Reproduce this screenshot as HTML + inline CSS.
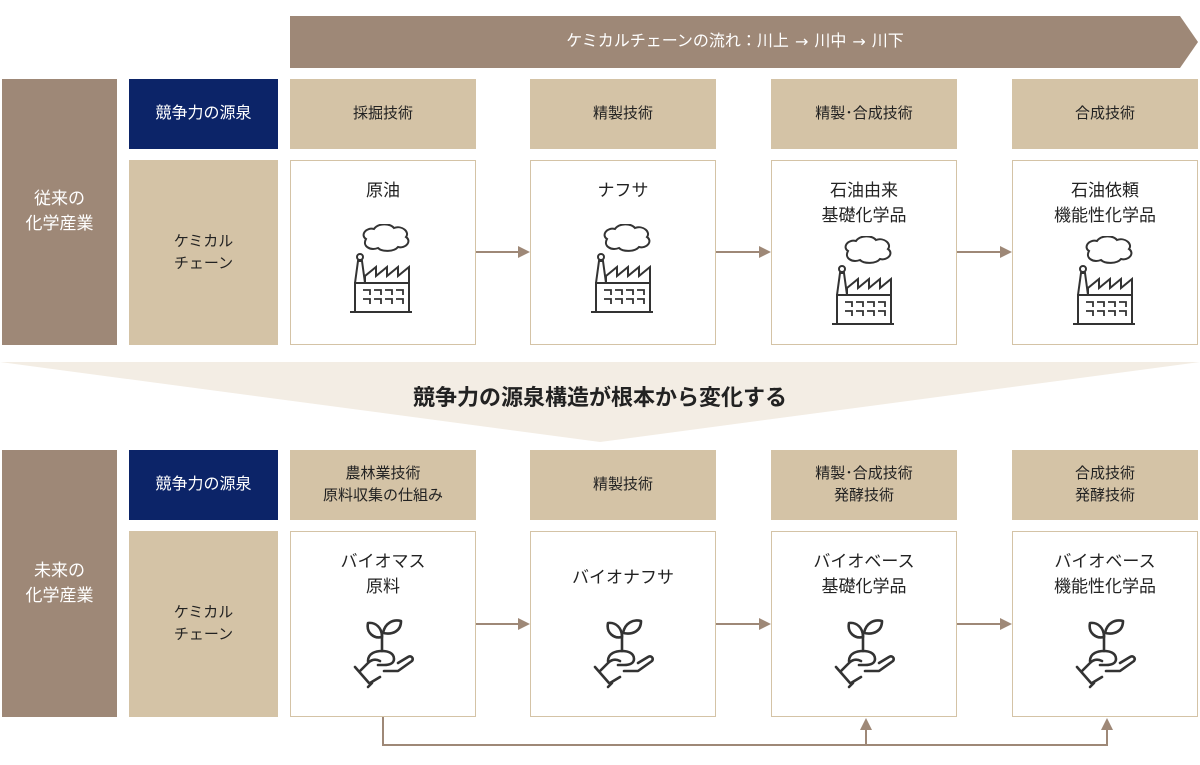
<!DOCTYPE html>
<html><head><meta charset="utf-8"><style>
body{margin:0;width:1200px;height:765px;background:#fff;position:relative;overflow:hidden;font-family:"Liberation Sans","Noto Sans CJK JP",sans-serif;}
.a{position:absolute;display:flex;align-items:center;justify-content:center;text-align:center;box-sizing:border-box;line-height:1.45;}
.tp{background:#9e8877;color:#fff;font-size:17px;}
.nv{background:#0c2468;color:#fff;font-size:16px;}
.bg{background:#d4c3a6;color:#222;font-size:15px;}
.bx{background:#fff;border:1.5px solid #d4c3a6;align-items:flex-start;padding-top:18px;font-size:17px;color:#222;}
svg{position:absolute;}
</style></head><body>
<svg width="1200" height="765" style="left:0;top:0">
<polygon points="290,16 1180,16 1198,42 1180,68 290,68" fill="#9e8877"/>
<polygon points="0,362 1200,362 600,442" fill="#f3ede4"/>
<g stroke="#9e8877" stroke-width="2" fill="none">
<line x1="476" y1="252" x2="520" y2="252"/><line x1="716" y1="252" x2="761" y2="252"/><line x1="957" y1="252" x2="1002" y2="252"/>
<line x1="476" y1="624" x2="520" y2="624"/><line x1="716" y1="624" x2="761" y2="624"/><line x1="957" y1="624" x2="1002" y2="624"/>
<polyline points="383,717 383,745 1107,745 1107,728"/><line x1="866" y1="745" x2="866" y2="728"/>
</g>
<g fill="#9e8877">
<polygon points="518,246 530,252 518,258"/><polygon points="759,246 771,252 759,258"/><polygon points="1000,246 1012,252 1000,258"/>
<polygon points="518,618 530,624 518,630"/><polygon points="759,618 771,624 759,630"/><polygon points="1000,618 1012,624 1000,630"/>
<polygon points="860,730 866,718 872,730"/><polygon points="1101,730 1107,718 1113,730"/>
</g>
</svg>
<div class="a" style="left:290px;top:16px;width:890px;height:52px;color:#fff;font-size:16px;">ケミカルチェーンの流れ：川上 <span style="font-family:'DejaVu Sans';margin:0 6px">→</span> 川中 <span style="font-family:'DejaVu Sans';margin:0 6px">→</span> 川下</div>
<div class="a" style="left:0;top:376px;width:1200px;height:44px;font-size:22px;font-weight:bold;color:#222;">競争力の源泉構造が根本から変化する</div>

<div class="a tp" style="left:2px;top:79px;width:115px;height:266px;">従来の<br>化学産業</div>
<div class="a nv" style="left:129px;top:79px;width:149px;height:70px;">競争力の源泉</div>
<div class="a bg" style="left:129px;top:160px;width:149px;height:185px;">ケミカル<br>チェーン</div>
<div class="a bg" style="left:290px;top:79px;width:186px;height:70px;">採掘技術</div>
<div class="a bg" style="left:530px;top:79px;width:186px;height:70px;">精製技術</div>
<div class="a bg" style="left:771px;top:79px;width:186px;height:70px;">精製･合成技術</div>
<div class="a bg" style="left:1012px;top:79px;width:186px;height:70px;">合成技術</div>
<div class="a bx" style="left:290px;top:160px;width:186px;height:185px;">原油</div>
<div class="a bx" style="left:530px;top:160px;width:186px;height:185px;">ナフサ</div>
<div class="a bx" style="left:771px;top:160px;width:186px;height:185px;">石油由来<br>基礎化学品</div>
<div class="a bx" style="left:1012px;top:160px;width:186px;height:185px;">石油依頼<br>機能性化学品</div>

<div class="a tp" style="left:2px;top:450px;width:115px;height:267px;">未来の<br>化学産業</div>
<div class="a nv" style="left:129px;top:450px;width:149px;height:70px;">競争力の源泉</div>
<div class="a bg" style="left:129px;top:531px;width:149px;height:186px;">ケミカル<br>チェーン</div>
<div class="a bg" style="left:290px;top:450px;width:186px;height:70px;">農林業技術<br>原料収集の仕組み</div>
<div class="a bg" style="left:530px;top:450px;width:186px;height:70px;">精製技術</div>
<div class="a bg" style="left:771px;top:450px;width:186px;height:70px;">精製･合成技術<br>発酵技術</div>
<div class="a bg" style="left:1012px;top:450px;width:186px;height:70px;">合成技術<br>発酵技術</div>
<div class="a bx" style="left:290px;top:531px;width:186px;height:186px;">バイオマス<br>原料</div>
<div class="a bx" style="left:530px;top:531px;width:186px;height:186px;padding-top:34px;">バイオナフサ</div>
<div class="a bx" style="left:771px;top:531px;width:186px;height:186px;">バイオベース<br>基礎化学品</div>
<div class="a bx" style="left:1012px;top:531px;width:186px;height:186px;">バイオベース<br>機能性化学品</div>

<svg width="0" height="0"><defs>
<g id="fac" fill="none" stroke="#333" stroke-width="2">
<path d="M20,15 c-6,-4 0,-12 8,-10 c4,-6 16,-6 20,-1 c8,-3 16,4 12,9 c6,4 0,12 -8,10 c-4,5 -16,5 -20,1 c-8,3 -16,-2 -12,-9z"/>
<circle cx="14" cy="33" r="3"/>
<path d="M4,88 h62 M9,88 V59 h54 V88 M9,59 l3,-22 h4 l3,22 M19,59 V52 l11,-9 v9 l11,-9 v9 l11,-9 v9 l11,-9 V59"/>
<path d="M17,66 h7 v5 M28,66 h7 v5 M39,66 h7 v5 M50,66 h7 v5 M17,75 h7 v5 M28,75 h7 v5 M39,75 h7 v5 M50,75 h7 v5" stroke-width="1.8"/>
</g>
<g id="pl" fill="none" stroke="#333" stroke-width="2.6" stroke-linejoin="round" stroke-linecap="round">
<path d="M32,36 V20"/>
<path d="M32,22 c-8,2 -16,-4 -14,-14 c8,-1 14,5 14,14z"/>
<path d="M33,18 c2,-10 10,-14 18,-12 c0,10 -8,14 -18,12z"/>
<path d="M18,46 c0,-8 8,-10 14,-10 c6,0 12,2 12,8 c0,4 -4,6 -10,6 h-6"/>
<path d="M10,56 l8,-8 c4,-4 8,-4 12,-2 M34,56 h14 l14,-10 c2,-3 -1,-6 -4,-4 l-10,6"/>
<path d="M5,52 l14,16 M20,68 l10,-6"/>
<path d="M22,68 l-4,4"/>
</g>
</defs></svg>
<svg width="72" height="92" style="left:346px;top:224px"><use href="#fac"/></svg>
<svg width="72" height="92" style="left:587px;top:224px"><use href="#fac"/></svg>
<svg width="72" height="92" style="left:828px;top:236px"><use href="#fac"/></svg>
<svg width="72" height="92" style="left:1069px;top:236px"><use href="#fac"/></svg>
<svg width="70" height="80" style="left:350px;top:615px"><use href="#pl"/></svg>
<svg width="70" height="80" style="left:590px;top:615px"><use href="#pl"/></svg>
<svg width="70" height="80" style="left:831px;top:615px"><use href="#pl"/></svg>
<svg width="70" height="80" style="left:1072px;top:615px"><use href="#pl"/></svg>
</body></html>
